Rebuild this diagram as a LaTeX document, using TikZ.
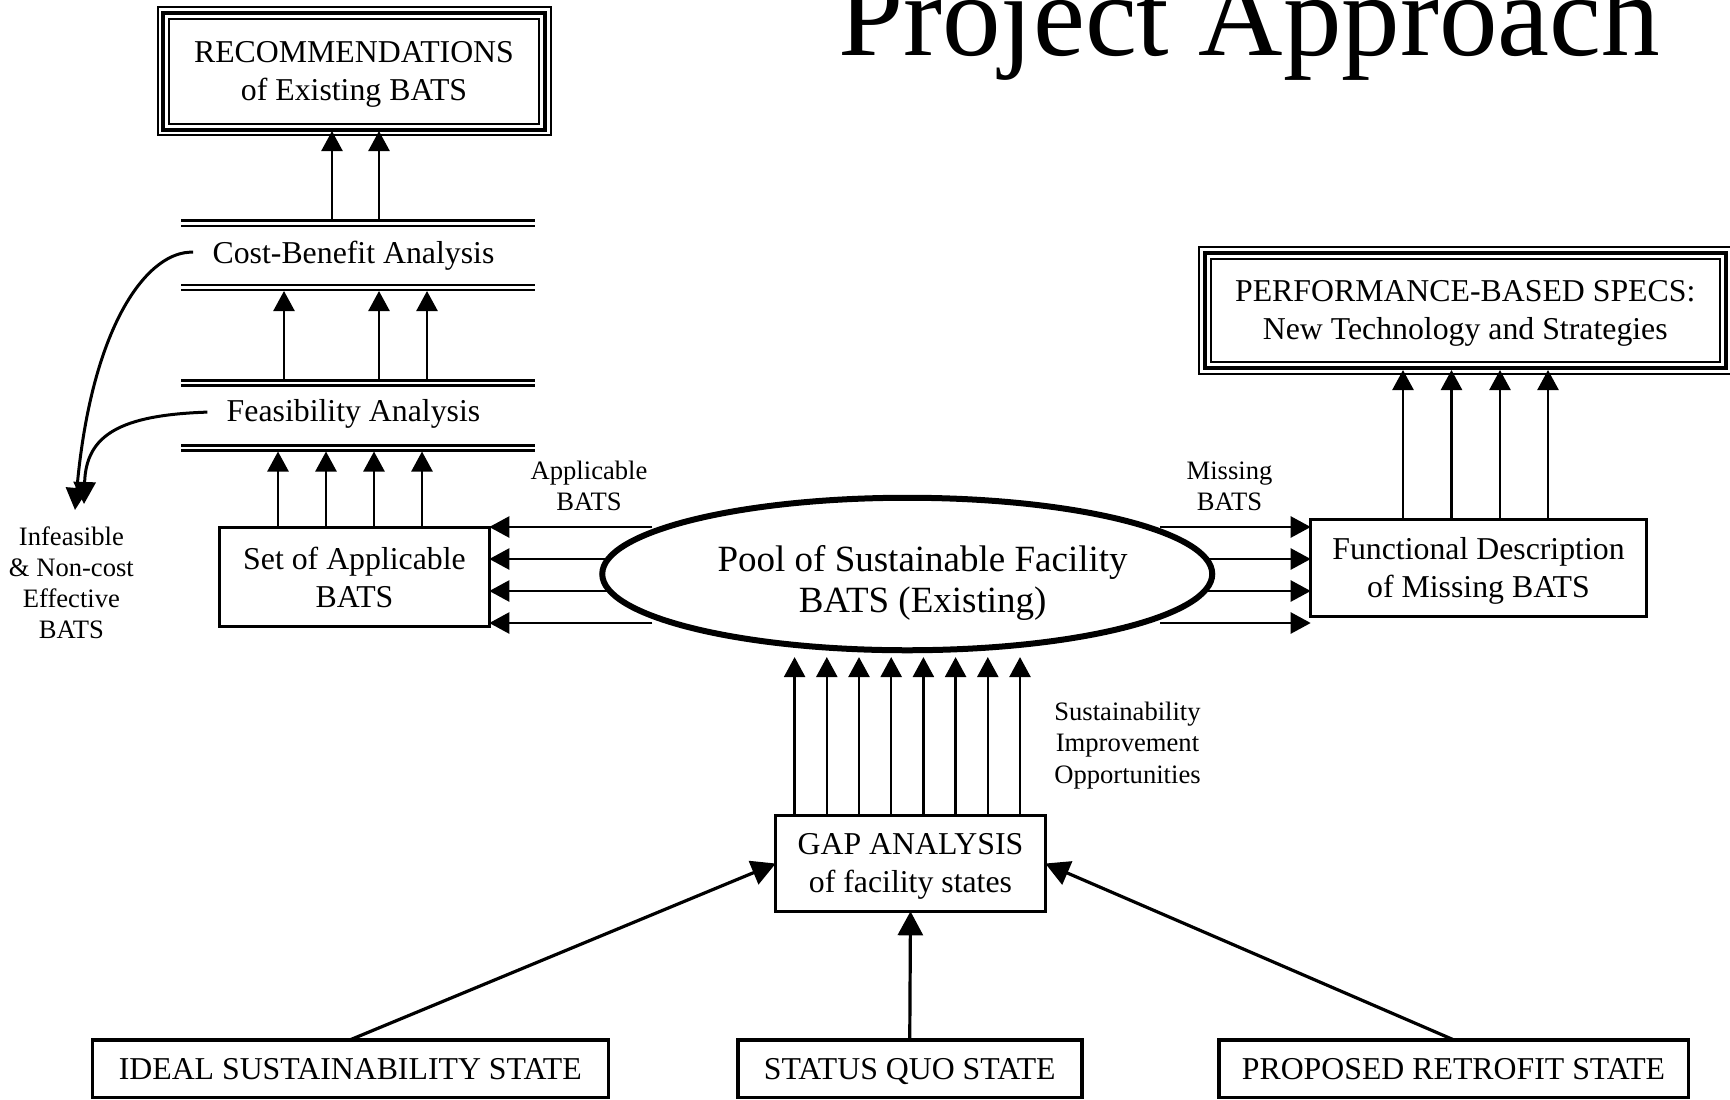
\documentclass[tikz,border=0pt]{standalone}
\usepackage{fontspec}
\setmainfont{Liberation Serif}
\usetikzlibrary{arrows.meta,shapes.geometric}
\pgfdeclarelayer{back}
\pgfsetlayers{back,main}
\newcommand\fmain{\fontsize{15.9}{19}\selectfont}
\newcommand\fpool{\fontsize{18.5}{20.8}\selectfont}
\newcommand\flab{\fontsize{13.3}{15.6}\selectfont}
\newcommand\fttl{\fontsize{58.5}{70}\selectfont}
\newcommand\ustrut{\rule{0pt}{13.7pt}}
\tikzset{
 arr/.style={-{Triangle[length=10pt,width=10.5pt]}, line width=1.25pt},
 bigarr/.style={-{Triangle[length=12pt,width=12.5pt]}, line width=1.6pt},
 carr/.style={-{Triangle[length=11pt,width=11pt]}, line width=1.5pt},
 box/.style={draw, line width=1.7pt, inner sep=0pt, outer sep=0pt, font=\fmain, align=center},
 sbox/.style={draw, line width=1.75pt, inner sep=0pt, outer sep=0pt, font=\fmain, minimum height=28.75pt, text height=10.5pt, text depth=0pt},
 tri/.style={draw, line width=1pt, inner sep=0pt, outer sep=0pt, font=\fmain, align=center},
 dblrule/.style={line width=1.3pt},
 lbl/.style={inner sep=0pt, font=\flab, align=center},
 txt/.style={inner sep=0pt, font=\fmain},
}
\begin{document}
\begin{tikzpicture}[x=0.5pt,y=-0.5pt]
\useasboundingbox (0,0) rectangle (1730,1099);
\begin{pgfonlayer}{back}
\fill[white] (0,0) rectangle (1730,1099);
\end{pgfonlayer}

% title
\node[anchor=base, inner sep=0pt, font=\fttl] (title) at (1249,55) {Project Approach};

% recommendations (triple frame)
\node[tri, minimum width=185pt, minimum height=52.5pt] (rec) at (354,71) {\ustrut RECOMMENDATIONS\\of Existing BATS};
\draw[line width=2pt] ([shift={(-3pt,3pt)}]rec.north west) rectangle ([shift={(3pt,-3pt)}]rec.south east);
\draw[line width=1pt] ([shift={(-5.75pt,5.75pt)}]rec.north west) rectangle ([shift={(5.75pt,-5.75pt)}]rec.south east);

% performance specs (triple frame)
\node[tri, minimum width=254.25pt, minimum height=51.5pt] (perf) at (1465.25,310.5) {\ustrut PERFORMANCE-BASED SPECS:\\New Technology and Strategies};
\draw[line width=2pt] ([shift={(-3pt,3pt)}]perf.north west) rectangle ([shift={(3pt,-3pt)}]perf.south east);
\draw[line width=1pt] ([shift={(-6pt,6pt)}]perf.north west) rectangle ([shift={(6pt,-6pt)}]perf.south east);

% analysis stages
\node[txt, anchor=base] (cba) at (353.5,263) {Cost-Benefit Analysis};
\node[txt, anchor=base] (fa) at (353.5,421.7) {Feasibility Analysis};
\foreach \y in {220.7,225.8,285,290,380.3,385.3,445.3,450.3}
  \draw[dblrule] (181,\y) -- (535,\y);
\coordinate (cbtop) at (0,221);
\coordinate (cbbot) at (0,291);
\coordinate (ftop) at (0,380.5);
\coordinate (fbot) at (0,451.5);
\coordinate (recbot) at ([yshift=-3.75pt]rec.south);

% boxes
\node[box, minimum width=134.8pt, minimum height=49.3pt] (sab) at (354.5,577) {Set of Applicable\\BATS};
\node[box, minimum width=167.8pt, minimum height=48.3pt] (func) at (1478.5,568) {\ustrut Functional Description\\of Missing BATS};
\node[box, minimum width=134.8pt, minimum height=47.8pt] (gap) at (910.5,863.5) {\ustrut GAP ANALYSIS\\of facility states};
\node[sbox, minimum width=257.95pt] (ideal) at (350.3,1068.5) {IDEAL SUSTAINABILITY STATE};
\node[sbox, minimum width=172pt] (status) at (909.75,1068.5) {STATUS QUO STATE};
\node[sbox, minimum width=234.75pt] (prop) at (1453.5,1068.5) {PROPOSED RETROFIT STATE};

% pool ellipse
\node[ellipse, draw, line width=3pt, fill=white, minimum width=305pt, minimum height=76.25pt, inner sep=0pt, outer sep=0pt] (pool) at (907.25,574) {};
\node[inner sep=0pt, font=\fpool, align=center] (pooltxt) at ([shift={(15.35,9)}]pool.center) {Pool of Sustainable Facility\\BATS (Existing)};
\coordinate (pbot) at ([yshift=-3.4pt]pool.south);
\coordinate (perfbot) at ([yshift=-4pt]perf.south);

% labels
\node[lbl] (appl) at (589,486) {Applicable\\BATS};
\node[lbl] (miss) at (1229.5,486.5) {Missing\\BATS};
\node[lbl] (infl) at (71.4,582.7) {Infeasible\\\& Non-cost\\Effective\\BATS};
\node[lbl] (sio) at (1127.5,745.5) {Sustainability\\Improvement\\Opportunities};

% horizontal arrows out of the pool (behind the ellipse)
\begin{pgfonlayer}{back}
\foreach \dy in {-47,-15,17,49}{
  \path ([shift={(-255,\dy)}]pool.center) coordinate (s);
  \draw[arr] (s) -- (sab.east |- s);
  \path ([shift={(253,\dy)}]pool.center) coordinate (t);
  \draw[arr] (t) -- (func.west |- t);
}
\end{pgfonlayer}

% vertical arrows
\foreach \x in {332,379} \draw[arr] (\x,0 |- cbtop) -- (\x,0 |- recbot);
\foreach \x in {284,379,427} \draw[arr] (\x,0 |- ftop) -- (\x,0 |- cbbot);
\foreach \x in {278,326,374,422} \draw[arr] (\x,0 |- sab.north) -- (\x,0 |- fbot);
\foreach \x in {1403,1451.5,1500,1548} \draw[arr] (\x,0 |- func.north) -- (\x,0 |- perfbot);
\foreach \x in {794.6,826.8,859,891.2,923.4,955.6,987.8,1020} \draw[arr] (\x,0 |- gap.north) -- (\x,0 |- pbot);

% rejected BATS curves
\coordinate (tipA) at (75,510);
\coordinate (tipB) at (84,504);
\draw[carr] ([shift={(-19,-3)}]cba.west) .. controls (150,250) and (92,320) .. (tipA);
\draw[carr] ([shift={(-19,-2)}]fa.west) .. controls (120,415) and (86,435) .. (tipB);

% states into gap analysis
\draw[bigarr] (ideal.north) -- (gap.west);
\draw[bigarr] (status.north) -- (gap.south);
\draw[bigarr] (prop.north) -- (gap.east);
\end{tikzpicture}
\end{document}
